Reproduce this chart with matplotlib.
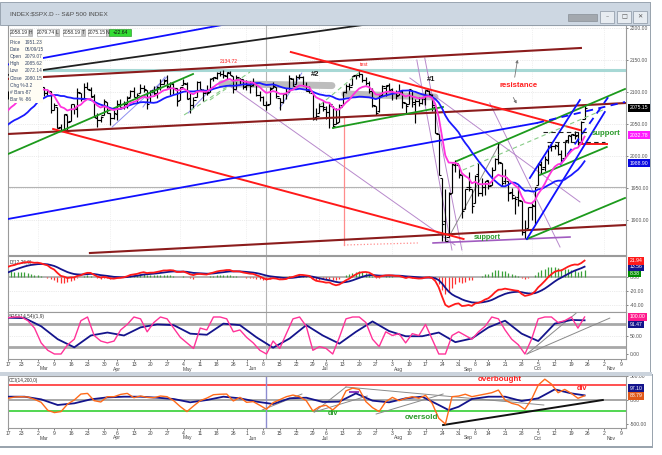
import numpy as np
import pandas as pd
import matplotlib
matplotlib.use("Agg")
import matplotlib.pyplot as plt
from matplotlib.patches import Rectangle
from matplotlib.ticker import FormatStrFormatter
from matplotlib.transforms import blended_transform_factory

plt.rcParams['font.family'] = ['Liberation Sans', 'DejaVu Sans']

W, H = 662, 455

# %% daily bars, 17 Feb 2015 .. 23 Oct 2015 (trading day 0 .. 174)
opens = [2096.5, 2099.2, 2099.3, 2097.7, 2109.8, 2109.1, 2115.3, 2113.9, 2110.9,
         2105.2, 2115.8, 2107.7, 2098.5, 2100.9, 2072.3, 2076.1, 2044.7, 2041.1, 2064.6, 2055.4,
         2080.6, 2072.8, 2098.7, 2090.3, 2108.0, 2103.9, 2093.1, 2059.9, 2055.8, 2064.1, 2084.1,
         2067.6, 2060.0, 2064.9, 2080.8, 2076.9, 2081.3, 2091.5, 2102.0, 2092.3, 2097.8, 2106.0,
         2102.6, 2084.1, 2102.8, 2098.3, 2107.2, 2112.8, 2119.3, 2108.4, 2112.5, 2105.5,
         2087.4, 2110.2, 2112.6, 2091.3, 2080.0, 2092.1, 2115.6, 2102.9, 2099.6, 2100.4,
         2122.1, 2121.3, 2129.5, 2127.8, 2125.6, 2130.4, 2125.3, 2105.1, 2122.3, 2120.7,
         2108.6, 2110.4, 2110.6, 2112.4, 2095.1, 2092.3, 2079.1, 2081.1, 2106.2, 2107.4, 2091.3,
         2084.3, 2097.4, 2101.6, 2121.1, 2112.5, 2123.2, 2123.7, 2109.7, 2102.6, 2098.6, 2061.2,
         2067.0, 2078.0, 2073.0, 2069.5, 2077.7, 2049.7, 2052.7, 2080.0, 2099.7, 2109.0, 2110.6,
         2126.8, 2126.9, 2127.6, 2118.2, 2114.2, 2102.2, 2078.2, 2070.8, 2094.7, 2106.8, 2111.6,
         2104.5, 2097.7, 2095.3, 2100.8, 2082.6, 2081.0, 2102.7, 2081.1, 2086.2, 2083.2, 2089.7,
         2102.0, 2095.7, 2076.6, 2034.1, 1965.2, 1898.1, 1872.8, 1942.8, 1986.1, 1986.7,
         1970.1, 1916.5, 1950.8, 1947.8, 1927.3, 1971.5, 1941.6, 1951.5, 1963.1, 1955.1, 1978.0,
         1995.3, 1989.7, 1960.8, 1961.4, 1943.2, 1934.8, 1935.9, 1929.2, 1881.9, 1887.1,
         1919.7, 1921.8, 1954.3, 1986.6, 1982.3, 1994.0, 2013.7, 2015.7, 2015.0, 2003.7, 1996.5,
         2024.4, 2031.7, 2033.1, 2033.5, 2021.9, 2058.2]
highs = [2101.3, 2100.2, 2102.1, 2110.6, 2110.1, 2117.9, 2119.6, 2113.9, 2112.7,
         2117.5, 2115.8, 2107.7, 2104.3, 2100.9, 2083.5, 2076.1, 2050.1, 2066.4, 2064.6, 2081.4,
         2080.6, 2106.9, 2098.7, 2113.9, 2114.9, 2107.6, 2097.4, 2067.2, 2062.8, 2089.0, 2084.1,
         2067.6, 2072.2, 2087.0, 2089.8, 2086.7, 2093.3, 2102.6, 2107.7, 2098.6, 2111.9, 2111.3,
         2102.6, 2103.9, 2109.6, 2109.0, 2120.5, 2120.9, 2125.9, 2116.0, 2113.7, 2105.5,
         2108.4, 2120.9, 2115.2, 2098.4, 2092.9, 2117.7, 2117.7, 2105.1, 2110.2, 2121.5,
         2123.9, 2131.8, 2133.0, 2134.7, 2131.8, 2132.2, 2125.3, 2126.2, 2122.3, 2120.7,
         2119.2, 2117.6, 2121.9, 2112.9, 2101.0, 2093.0, 2085.6, 2108.5, 2115.0, 2107.4, 2091.3,
         2097.4, 2106.8, 2126.6, 2121.6, 2126.8, 2128.0, 2125.1, 2116.0, 2108.9, 2098.6, 2074.3,
         2082.8, 2085.8, 2078.6, 2083.7, 2077.7, 2074.3, 2081.3, 2100.7, 2112.0, 2114.1, 2124.4,
         2128.1, 2132.8, 2128.9, 2124.2, 2116.9, 2106.0, 2078.2, 2095.6, 2110.6, 2110.5, 2114.2,
         2105.7, 2102.5, 2112.7, 2103.3, 2082.6, 2105.4, 2102.7, 2089.1, 2092.9, 2092.5, 2102.9,
         2103.5, 2096.2, 2076.6, 2034.1, 1965.2, 1948.0, 1943.1, 1989.6, 1993.5, 1986.7,
         1970.1, 1948.9, 1975.0, 1947.8, 1970.4, 1988.6, 1965.3, 1961.1, 1963.1, 1983.2, 1997.3,
         2020.9, 1989.7, 1979.6, 1961.4, 1949.5, 1937.2, 1952.9, 1929.2, 1899.5, 1920.5,
         1927.2, 1951.4, 1989.2, 1991.6, 1999.3, 2016.5, 2020.1, 2018.7, 2022.3, 2009.6, 2024.2,
         2033.5, 2034.5, 2039.1, 2038.0, 2055.2, 2079.7]
lows = [2089.8, 2092.2, 2090.8, 2085.4, 2103.0, 2105.9, 2109.9, 2103.8, 2103.8,
        2104.5, 2098.3, 2094.5, 2095.2, 2067.3, 2072.2, 2044.2, 2039.7, 2041.1, 2041.2, 2055.4,
        2065.1, 2061.2, 2085.6, 2090.3, 2104.4, 2091.5, 2061.1, 2045.5, 2053.0, 2064.1, 2067.0,
        2048.4, 2057.3, 2056.5, 2076.1, 2073.3, 2074.3, 2091.5, 2092.3, 2083.2, 2097.8, 2100.0,
        2073.0, 2084.1, 2094.4, 2091.1, 2103.2, 2112.8, 2107.0, 2094.9, 2097.4, 2077.6,
        2087.4, 2110.2, 2088.5, 2067.9, 2075.0, 2092.1, 2104.6, 2085.6, 2096.0, 2100.4,
        2116.8, 2120.0, 2124.5, 2122.6, 2120.9, 2126.1, 2099.2, 2105.1, 2112.8, 2104.9,
        2102.5, 2099.1, 2109.6, 2093.2, 2085.7, 2079.1, 2072.1, 2081.1, 2106.2, 2091.3, 2072.5,
        2082.1, 2088.9, 2101.6, 2109.5, 2112.5, 2119.9, 2108.6, 2101.8, 2098.0, 2056.6, 2056.3,
        2067.0, 2071.0, 2058.4, 2044.0, 2044.5, 2049.7, 2052.7, 2080.0, 2098.2, 2102.5, 2110.6,
        2119.9, 2123.7, 2115.4, 2110.9, 2098.6, 2077.1, 2063.5, 2069.1, 2094.1, 2094.1, 2102.1,
        2087.3, 2088.6, 2095.3, 2075.5, 2067.9, 2081.0, 2076.5, 2052.1, 2078.3, 2080.6, 2079.3,
        2094.1, 2070.5, 2035.7, 1970.9, 1867.0, 1867.1, 1872.8, 1942.8, 1975.2, 1966.0,
        1903.1, 1916.5, 1944.7, 1911.2, 1927.3, 1937.9, 1937.2, 1939.2, 1948.3, 1954.3, 1977.9,
        1987.7, 1953.5, 1955.8, 1929.2, 1932.4, 1908.9, 1921.5, 1876.9, 1871.9, 1887.1,
        1900.7, 1893.7, 1954.3, 1972.0, 1976.4, 1987.5, 2007.6, 2010.3, 2001.8, 1990.7, 1996.5,
        2020.5, 2022.3, 2026.6, 2017.2, 2021.9, 2058.2]
closes = [2100.3, 2099.7, 2097.5, 2110.3, 2109.7, 2115.5, 2113.9, 2110.7, 2104.5,
          2117.4, 2107.8, 2098.5, 2101.0, 2071.3, 2079.4, 2044.2, 2040.2, 2066.0, 2053.4, 2081.2,
          2074.3, 2099.5, 2089.3, 2108.1, 2104.4, 2091.5, 2061.1, 2056.2, 2061.0, 2086.2, 2067.9,
          2059.7, 2067.0, 2080.6, 2076.3, 2081.9, 2091.2, 2102.1, 2092.4, 2095.8, 2106.6, 2105.0,
          2081.2, 2100.4, 2097.3, 2108.0, 2112.9, 2117.7, 2108.9, 2114.8, 2106.9, 2085.5,
          2108.3, 2114.5, 2089.5, 2080.2, 2088.0, 2116.1, 2105.3, 2099.1, 2098.5, 2121.1,
          2122.7, 2129.2, 2127.8, 2125.9, 2130.8, 2126.1, 2104.2, 2123.5, 2120.8, 2107.4,
          2111.7, 2109.6, 2114.1, 2095.8, 2092.8, 2079.3, 2080.2, 2105.2, 2108.9, 2094.1, 2084.4,
          2096.3, 2100.4, 2121.2, 2110.0, 2122.9, 2124.2, 2108.6, 2102.3, 2101.5, 2057.6, 2063.1,
          2077.4, 2076.8, 2068.8, 2081.3, 2046.7, 2051.3, 2076.6, 2099.6, 2109.0, 2107.4, 2124.3,
          2126.6, 2128.3, 2119.2, 2114.2, 2102.2, 2079.7, 2067.6, 2093.3, 2108.6, 2108.6, 2103.8,
          2098.0, 2093.3, 2099.8, 2083.6, 2077.6, 2104.2, 2084.1, 2086.1, 2083.4, 2091.5, 2102.4,
          2096.9, 2079.6, 2035.7, 1970.9, 1893.2, 1867.6, 1940.5, 1987.7, 1988.9, 1972.2,
          1913.9, 1948.9, 1951.1, 1921.2, 1969.4, 1942.0, 1952.3, 1961.1, 1953.0, 1978.1, 1995.3,
          1990.2, 1958.0, 1967.0, 1942.7, 1938.8, 1932.2, 1931.3, 1881.8, 1884.1, 1920.0,
          1923.8, 1951.4, 1987.1, 1979.9, 1995.8, 2013.4, 2014.9, 2017.5, 2003.7, 1994.2, 2023.9,
          2033.1, 2033.7, 2030.8, 2018.9, 2052.5, 2075.15]
# closes from Dec 2014 to 13 Feb 2015, only used to start the averages
warmup_closes = [2053.4, 2066.6, 2074.3, 2071.9, 2075.4, 2060.3, 2059.8, 2026.1, 2035.3, 2002.3,
                 1989.6, 1972.7, 2012.9, 2061.2, 2070.7, 2078.5, 2082.2, 2081.9, 2088.8, 2090.6,
                 2080.4, 2058.9,
                 2058.2, 2020.6, 2002.6, 2025.9, 2062.1, 2044.8, 2028.3, 2023.0, 2011.3, 1992.7,
                 2019.4, 2022.6, 2032.1, 2063.2, 2051.8, 2057.1, 2029.6, 2002.2, 2021.3, 1995.0,
                 2020.9, 2050.0, 2041.5, 2062.5, 2055.5, 2046.7, 2068.6, 2068.5, 2088.5, 2097.0]

# date axis: first trading day of each week, and first trading day of each month
tick_days = [0, 4, 9, 14, 19, 24, 29, 33, 38, 43, 48, 53, 58, 63, 68, 72, 77, 82, 87, 92,
             96, 101, 106, 111, 116, 121, 126, 131, 136, 141, 145, 150, 155, 160, 165, 170,
             175, 180, 185]
tick_labels = ['17', '23', '2', '9', '16', '23', '30', '6', '13', '20', '27', '4', '11', '18',
               '26', '1', '8', '15', '22', '29', '6', '13', '20', '27', '3', '10', '17', '24',
               '31', '8', '14', '21', '28', '5', '12', '19', '26', '2', '9']
month_days = [9, 31, 52, 72, 94, 116, 137, 158, 180]
month_names = ['Mar', 'Apr', 'May', 'Jun', 'Jul', 'Aug', 'Sep', 'Oct', 'Nov']

# oscillator panel (pink fast line every 2nd day, blue slow line)
sto_fast_days = list(range(0, 175, 2))
sto_fast = [98, 100, 100, 90, 70, 30, 10, 0, 0, 25,
            40, 90, 100, 50, 35, 30, 35, 65, 80, 100,
            95, 60, 85, 100, 95, 70, 45, 30, 15, 70,
            65, 100, 100, 95, 60, 65, 45, 30, 10, 0,
            35, 15, 55, 95, 100, 75, 10, 20, 15, 0,
            45, 95, 100, 100, 85, 40, 20, 60, 50, 55,
            30, 55, 50, 80, 40, 0, 0, 50, 60, 50,
            40, 60, 75, 100, 95, 65, 40, 25, 0, 40,
            95, 100, 100, 85, 90, 100, 70, 100]
sto_slow_days = list(range(0, 171, 5)) + [174]
sto_slow = [98, 97, 75, 40, 18, 50, 58, 50, 72, 80,
            78, 55, 52, 82, 78, 45, 17, 42, 78, 50,
            28, 60, 88, 62, 48, 48, 58, 32, 42, 72,
            90, 55, 35, 82, 92, 91]

# CCI panel
cci_days = list(range(0, 175, 2))
cci_fast = [35, 62, 69, 62, 14, -48, -214, -262, -241, -83,
            0, 124, 138, -14, -41, 69, 69, 117, 138, 48,
            83, 55, 48, 83, 69, -14, -138, -241, -124, -14,
            40, 110, 120, 124, -20, 55, -48, -34, -110, -193,
            -55, 7, 69, 103, 69, -14, -228, -138, -110, -207,
            -83, 190, 248, 220, -34, -159, -241, -34, 55, -14,
            35, 69, 35, 97, -69, -380, -500, 69, 83, 120,
            69, 97, 124, 152, 207, 0, -69, -103, -193, 14,
            310, 434, 331, 152, 221, 138, 35, 89]
cci_slow_days = [0, 5, 10, 15, 20, 25, 30, 35, 40, 45, 50, 55, 60, 65, 70, 75, 80, 85, 90, 95,
                 100, 105, 110, 115, 120, 125, 130, 133, 136, 140, 145, 150, 155, 160, 165, 170, 174]
cci_slow = [69, 69, 14, -104, -69, 14, 55, 69, 69, 48,
            21, -48, 0, 69, 35, -34, -83, 35, 48, -41,
            -34, 138, -14, -48, 35, 69, -104, -210, -140, 21,
            69, 69, -21, 35, 221, 138, 97]
cci_ob, cci_os = 310, -230

# trendlines on the price panel, (day, price) pairs
brown_lines = [[(0.0, 2120.4), (172.9, 2168.8)],
               [(0.1, 2034.4), (186.5, 2082.8)],
               [(24.8, 1848.4), (186.5, 1892.2)]]
red_lines = [[(13.7, 2042.2), (137.5, 1870.3)],
             [(85.4, 2162.5), (172.6, 2040.6)],
             [(172.6, 2018.8), (180.7, 2018.8)]]
green_lines = [[(0.1, 2003.1), (55.9, 2128.1)],
               [(98.1, 2043.8), (131.3, 2076.6)],
               [(135.5, 1992.2), (186.2, 2104.7)],
               [(160.5, 1970.3), (180.7, 2014.1)],
               [(156.6, 1870.3), (186.2, 1934.4)]]
green_dash = [[(53.2, 2064.1), (70.1, 2121.9)],
              [(61.0, 2087.5), (73.1, 2131.3)],
              [(94.2, 2079.7), (106.2, 2131.3)],
              [(137.3, 1978.1), (179.5, 2071.9)]]
blue_lines = [[(0.0, 2142.9), (80.0, 2219.4)],
              [(0.1, 1901.6), (159.6, 2051.6)],
              [(157.5, 1965.6), (172.6, 2087.5)],
              [(156.6, 1870.3), (180.1, 2068.8)]]
blue_dash = [[(159.6, 2051.6), (186.2, 2084.4)],
             [(166.6, 1985.9), (181.6, 2095.3)]]
black_lines = [[(0.0, 2126.6), (130.0, 2221.4)]]
lavender_lines = [[(31.5, 2045.3), (48.0, 2123.4)], [(40.8, 2076.6), (47.4, 2123.4)],
                  [(54.4, 2067.2), (61.9, 2107.8)], [(82.1, 2075.0), (88.7, 2129.7)]]
purple_lines = [[(67.0, 2109.4), (134.9, 1860.9)], [(121.3, 2121.9), (172.6, 1928.1)],
                [(123.4, 2150.0), (134.0, 1853.1)], [(125.8, 2153.1), (137.0, 1853.1)],
                [(145.4, 2082.8), (166.6, 1857.8)]]
purple_support = [[(128.3, 1864.1), (169.6, 1873.4)]]
grey_lines = [[(133.4, 1876.6), (148.5, 2020.3)]]
black_dash = [[(161.4, 2037.5), (174.7, 2037.5)], [(162.6, 2021.9), (180.1, 2021.9)]]
grey_bands = [[(64.5, 2113.0), (97.8, 2110.0)], [(101.7, 2096.9), (128.9, 2092.2)]]
pink_marker = [[(101.4, 2059.4), (101.4, 1860.9)]]
pink_dotted = [[(101.4, 1860.9), (123.7, 1864.1)]]
arrows = [[(152.8, 2118.8), (153.9, 2154.7)], [(152.1, 2095.3), (153.9, 2078.1)]]
teal_level = 2134.72
cursor_day, cursor_price = 78, 1951.23

sto_lines = [[(156.6, 0), (171.4, 110)], [(156.6, 0), (181.6, 97)]]
cci_grey = [[(76.7, -208), (88.7, 125)], [(92.4, -250), (102.0, 271)],
            [(92.4, -250), (108.4, 83)], [(102.0, 271), (161.7, -104)],
            [(111.1, -292), (131.3, 125)]]
cci_black = [[(131.3, -521), (179.5, 0)]]
cci_purple = [[(103.2, 167), (105.6, 167)]]

# %% derived averages
days = np.arange(len(closes))
n_warm = len(warmup_closes)
c_all = pd.Series(warmup_closes + closes)
ema10 = c_all.ewm(span=10, adjust=False).mean().to_numpy()[n_warm:]
sma20 = c_all.rolling(20).mean().to_numpy()[n_warm:]
macd_s = c_all.ewm(span=12, adjust=False).mean() - c_all.ewm(span=26, adjust=False).mean()
sig_s = macd_s.ewm(span=9, adjust=False).mean()
macd = macd_s.to_numpy()[n_warm:]
signal = sig_s.to_numpy()[n_warm:]
hist = macd - signal

# %% figure
fig = plt.figure(figsize=(W / 100, H / 100), dpi=100)
fig.patch.set_facecolor('white')
XMIN, XMAX = 0.09, 186.5


def panel(x0, y0, x1, y1):
    ax = fig.add_axes([x0 / W, 1 - y1 / H, (x1 - x0) / W, (y1 - y0) / H])
    ax.set_xlim(XMIN, XMAX)
    for s in ax.spines.values():
        s.set_color('#9a9a9a')
        s.set_linewidth(0.8)
    ax.yaxis.tick_right()
    ax.tick_params(axis='y', labelsize=3.6, colors='#555555', length=1.5, pad=1.5, width=0.5)
    ax.tick_params(axis='x', length=0, labelbottom=False)
    ax.yaxis.set_major_formatter(FormatStrFormatter('%.2f'))
    return ax


def segs(ax, lines, **kw):
    for (a, b) in lines:
        ax.plot([a[0], b[0]], [a[1], b[1]], **kw)


def value_box(ax, y, text, fc, zo=10):
    ax.text(1.006, y, text, transform=ax.get_yaxis_transform(), ha='left', va='center',
            fontsize=3.7, color='white', zorder=zo, clip_on=False,
            bbox=dict(boxstyle='square,pad=0.3', fc=fc, ec='none'))


def date_axis(ax, height_px):
    ax.set_xticks(tick_days)
    ax.set_xticklabels(tick_labels)
    ax.tick_params(axis='x', labelbottom=True, labelsize=3.6, colors='#444444',
                   length=1.5, width=0.5, pad=1)
    tr = blended_transform_factory(ax.transData, ax.transAxes)
    for d, m in zip(month_days, month_names):
        ax.text(d + 0.6, -10 / height_px, m, transform=tr, ha='left', va='center',
                fontsize=3.6, color='#444444')


# ---- price panel
ax = panel(8, 25, 626, 255)
ax.set_ylim(1845.3, 2204.7)
ax.set_yticks(np.arange(1900, 2201, 50))
for yv in np.arange(1900, 2201, 50):
    ax.axhline(yv, color='#d8d8d8', lw=0.5, ls=':', zorder=0)
for d in month_days:
    ax.axvline(d, color='#e4e4e4', lw=0.5, ls=':', zorder=0)
ax.axvline(cursor_day, color='#b4b4b4', lw=0.8, zorder=1)
ax.axhline(cursor_price, color='#b4b4b4', lw=0.8, zorder=1)
ax.axhline(teal_level, color='#a7d8d5', lw=2.2, zorder=1)

segs(ax, grey_bands, color='#bdbdbd', lw=5, solid_capstyle='round', zorder=1.5)
segs(ax, purple_lines, color='#b889cc', lw=0.7, zorder=2.5)
segs(ax, purple_support, color='#a15cc0', lw=1.2, zorder=2.5)
segs(ax, lavender_lines, color='#8f8ff0', lw=0.7, zorder=2.5)
segs(ax, pink_marker, color='#ff8c8c', lw=0.9, zorder=2.5)
segs(ax, pink_dotted, color='#ff8c8c', lw=0.9, ls=':', zorder=2.5)
segs(ax, grey_lines, color='#8a8a8a', lw=0.7, zorder=2.5)

# OHLC bars
ax.vlines(days, lows, highs, color='black', lw=0.85, zorder=3)
ax.hlines(opens, days - 0.75, days, color='black', lw=0.8, zorder=3)
ax.hlines(closes, days, days + 0.75, color='black', lw=0.8, zorder=3)

segs(ax, brown_lines, color='#8b1c1c', lw=1.5, zorder=4)
segs(ax, black_lines, color='#202020', lw=1.3, zorder=4)
segs(ax, red_lines, color='#ff1a1a', lw=1.4, zorder=4)
segs(ax, green_lines, color='#1c9a1c', lw=1.3, zorder=4)
segs(ax, green_dash, color='#88cc88', lw=0.8, ls=(0, (4, 3)), zorder=4)
segs(ax, blue_lines, color='#1010ff', lw=1.3, zorder=4)
segs(ax, blue_dash, color='#1010ff', lw=1.3, ls=(0, (4, 3)), zorder=4)
segs(ax, black_dash, color='#202020', lw=0.8, ls=(0, (4, 3)), zorder=4)
for (a, b) in arrows:
    ax.annotate('', xy=b, xytext=a, zorder=4,
                arrowprops=dict(arrowstyle='-|>', color='#777777', lw=0.6, mutation_scale=4))

ax.plot(days, sma20, color='#1a1aff', lw=1.3, zorder=5)
ax.plot(days, ema10, color='#ff33dd', lw=1.3, zorder=5)

ax.text(66.7, 2146.9, '2134.72', color='#ff2020', fontsize=3.6, ha='center', va='center', zorder=6)
ax.text(107.4, 2142.2, 'test', color='#ff2020', fontsize=3.8, ha='center', va='center', zorder=6)
ax.text(92.7, 2126.6, '#2', color='#202020', fontsize=5.5, weight='bold', ha='center', va='center', zorder=6)
ax.text(127.7, 2118.8, '#1', color='#202020', fontsize=5.5, weight='bold', ha='center', va='center', zorder=6)
ax.text(154.0, 2109.4, 'resistance', color='#ff2020', fontsize=5.6, weight='bold', ha='center', va='center', zorder=6)
ax.text(180.4, 2035.9, 'support', color='#2a9a2a', fontsize=5.6, weight='bold', ha='center', va='center', zorder=6)
ax.text(144.8, 1871.9, 'support', color='#2a9a2a', fontsize=5.2, weight='bold', ha='center', va='center', zorder=6)

value_box(ax, 1988.90, '1988.90', '#0a0ae0')
value_box(ax, 2032.78, '2032.78', '#ff1aff')
value_box(ax, 2075.15, '2075.15', '#000000')

# ---- MACD panel
mx = panel(8, 256, 626, 312)
mx.set_ylim(-49.0, 28.3)
mx.set_yticks([0, -20, -40])
for yv in [-20, -40]:
    mx.axhline(yv, color='#d8d8d8', lw=0.5, ls=':', zorder=0)
mx.axhline(0, color='#a8a8a8', lw=1.2, zorder=1)
mx.axvline(cursor_day, color='#b4b4b4', lw=0.8, zorder=1)
mx.vlines(days, 0, hist, colors=np.where(hist >= 0, '#3aa03a', '#ff3030'), lw=0.9, zorder=2)
mx.plot(days, signal, color='#14148c', lw=1.3, zorder=3)
mx.plot(days, macd, color='#ff1a1a', lw=1.3, zorder=4)
mx.text(0.002, 0.93, 'D(12,26,9)', transform=mx.transAxes, fontsize=3.4, color='#333333', va='top')
# last values stacked at the right edge, each box just below the one above
value_box(mx, 21.94, '21.94', '#ff1a1a', zo=12)
value_box(mx, 13.2, '13.56', '#14148c', zo=11)
value_box(mx, 4.6, '8.38', '#008c00', zo=10)

# ---- oscillator panel
sx = panel(8, 312, 626, 359)
sx.set_ylim(-13.5, 113.5)
sx.set_yticks([50, 0])
sx.axhline(50, color='#d8d8d8', lw=0.5, ls=':', zorder=0)
sx.axhline(80, color='#a8a8a8', lw=2, zorder=1)
sx.axhline(20, color='#a8a8a8', lw=2, zorder=1)
sx.axvline(cursor_day, color='#b4b4b4', lw=0.8, zorder=1)
segs(sx, sto_lines, color='#8a8a8a', lw=0.7, zorder=2)
sx.plot(sto_slow_days, sto_slow, color='#14148c', lw=1.3, zorder=3)
sx.plot(sto_fast_days, sto_fast, color='#ff3399', lw=1.0, zorder=4)
sx.text(0.002, 0.95, 'SRSI(14,54)(1,9)', transform=sx.transAxes, fontsize=3.4, color='#333333', va='top')
value_box(sx, 100, '100.00', '#ff1a8c', zo=11)
value_box(sx, 80.5, '91.47', '#14148c', zo=10)
date_axis(sx, 47)

# ---- CCI panel
cx = panel(8, 376, 626, 428)
cx.set_ylim(-583, 500)
cx.set_yticks([500, 0, -500])
cx.axhline(0, color='#a8a8a8', lw=1.4, zorder=1)
cx.axhline(cci_ob, color='#ff2020', lw=1.1, zorder=1)
cx.axhline(cci_os, color='#22cc22', lw=1.1, zorder=1)
cx.axvline(cursor_day, color='#8c8cd0', lw=1.0, zorder=1)
segs(cx, cci_grey, color='#8a8a8a', lw=0.7, zorder=2)
segs(cx, cci_black, color='#111111', lw=1.4, zorder=2)
segs(cx, cci_purple, color='#9040c0', lw=1.5, zorder=2)
cx.plot(cci_slow_days, cci_slow, color='#14148c', lw=1.3, zorder=3)
cx.plot(cci_days, cci_fast, color='#ff6a1a', lw=1.0, zorder=4)
cx.text(98.1, -271, 'div', color='#2a9a2a', fontsize=5.2, weight='bold', ha='center', va='center', zorder=6)
cx.text(124.9, -354, 'oversold', color='#2a9a2a', fontsize=5.8, weight='bold', ha='center', va='center', zorder=6)
cx.text(148.5, 437, 'overbought', color='#ff2020', fontsize=5.8, weight='bold', ha='center', va='center', zorder=6)
cx.text(173.2, 250, 'div', color='#ff2020', fontsize=5.2, weight='bold', ha='center', va='center', zorder=6)
cx.text(0.002, 0.96, 'CCI(14,200,0)', transform=cx.transAxes, fontsize=3.4, color='#333333', va='top')
value_box(cx, 250, '97.10', '#14148c', zo=10)
value_box(cx, 88.79, '88.79', '#e0581a', zo=11)
date_axis(cx, 52)


# %% window chrome, drawn in figure pixels
def fig_rect(x0, y0, x1, y1, **kw):
    fig.add_artist(Rectangle((x0 / W, 1 - y1 / H), (x1 - x0) / W, (y1 - y0) / H,
                             transform=fig.transFigure, **kw))


def fig_text(x, y, s, **kw):
    fig.text(x / W, 1 - y / H, s, **kw)


fig_rect(0, 2, 650, 25, fc='#cdd7e2', ec='#8d99a6', lw=0.6, zorder=1)
fig_text(10, 14, 'INDEX:$SPX.D -- S&P 500 INDEX', fontsize=4.6, color='#4a4a4a', va='center')
fig_rect(568, 14, 597, 21, fc='#a3a8ae', ec='#7d838a', lw=0.4, zorder=2)
for (bx, glyph) in [(600, '\u2013'), (617, '\u25a1'), (633, '\u2715')]:
    fig_rect(bx, 11, bx + 14, 23, fc='#e7ecf1', ec='#8a96a3', lw=0.5, zorder=2)
    fig_text(bx + 7, 17, glyph, fontsize=4.5, color='#555555', ha='center', va='center',
             family=['DejaVu Sans'], zorder=3)
fig_rect(650, 2, 651, 373, fc='#9aa4ae', ec='none', zorder=1)
fig_rect(0, 372, 652, 376, fc='#cbd3dc', ec='none', zorder=1)
fig_rect(652, 374, 653, 447, fc='#9aa4ae', ec='none', zorder=1)
fig_rect(0, 446, 653, 447.5, fc='#9aa4ae', ec='none', zorder=1)

# last-bar values row
row = [('2058.19', 10, 18, '#ffffff'), ('H', 29, 3, '#c8c8c8'), ('2079.74', 37, 18, '#ffffff'),
       ('L', 56, 3, '#c8c8c8'), ('2058.19', 63, 18, '#ffffff'), ('T', 82, 3, '#c8c8c8'),
       ('2075.15', 88, 18, '#ffffff'), ('N', 106, 3, '#c8c8c8')]
for (txt, x0, wd, fc) in row:
    fig_rect(x0, 29, x0 + wd, 36, fc=fc, ec='#9a9a9a', lw=0.4, zorder=5)
    fig_text(x0 + wd / 2, 32.5, txt, fontsize=3.6, color='#333333', ha='center', va='center', zorder=6)
fig_rect(109, 29, 131, 36, fc='#33dd33', ec='#1a8a1a', lw=0.4, zorder=5)
fig_text(120, 32.5, '+22.64', fontsize=3.6, color='#111111', ha='center', va='center', zorder=6)

# cursor data window
info_labels = ['Price', 'Date', 'Open', 'High', 'Low', 'Close', 'Chg %', '# Bars', 'Bar %']
info_values = ['1951.23', '06/09/15', '2079.07', '2085.62', '2072.14', '2080.15', '-3.2', '-87', '-86']
fig_rect(8.5, 38, 43, 103, fc='#fffdf4', ec='none', zorder=5)
for k, (lab, val) in enumerate(zip(info_labels, info_values)):
    yy = 42 + k * 7.2
    fig_text(10, yy, lab, fontsize=3.5, color='#3a4a6a', va='center', zorder=6)
    fig_text(25, yy, val, fontsize=3.5, color='#3a4a6a', va='center', zorder=6)

fig.savefig('out.png', dpi=100)
